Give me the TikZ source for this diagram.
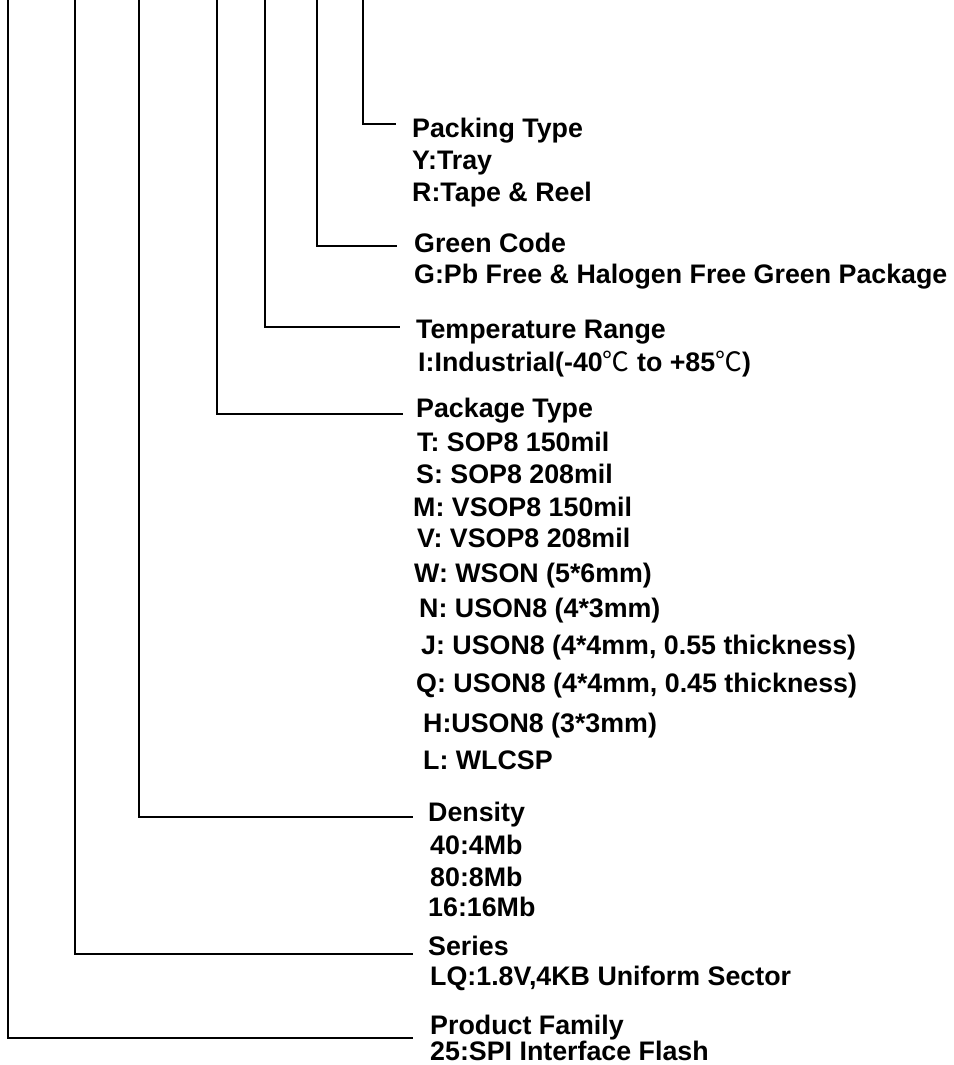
\documentclass[tikz,border=0pt]{standalone}
\usepackage{fontspec}
\setmainfont{Liberation Sans}
\newfontfamily\cjkdeg{Noto Sans CJK SC}
\newcommand{\degc}{{\cjkdeg\mdseries ℃}}
\begin{document}
\begin{tikzpicture}[x=1pt,y=-1pt,
  lbl/.style={anchor=base west,inner sep=0pt,font=\fontsize{26.8}{32}\selectfont\bfseries},
  branch/.style={line width=1.3pt,black}]
\useasboundingbox (0,0) rectangle (953,1065);
% tops of vertical lines
\coordinate (t1) at (8,0);
\coordinate (t2) at (75,0);
\coordinate (t3) at (139,0);
\coordinate (t4) at (217,0);
\coordinate (t5) at (265,0);
\coordinate (t6) at (317,0);
\coordinate (t7) at (363,0);
% ends of horizontal lines
\coordinate (e7) at (396,124);
\coordinate (e6) at (397,246);
\coordinate (e5) at (400,327);
\coordinate (e4) at (403,414);
\coordinate (e3) at (413,817);
\coordinate (e2) at (413,954);
\coordinate (e1) at (413,1038);
\draw[branch] (t7) |- (e7);
\draw[branch] (t6) |- (e6);
\draw[branch] (t5) |- (e5);
\draw[branch] (t4) |- (e4);
\draw[branch] (t3) |- (e3);
\draw[branch] (t2) |- (e2);
\draw[branch] (t1) |- (e1);
% labels
\node[lbl] (pk)  at (412,137.5) {Packing Type};
\node[lbl] (pk1) at (412,169.5) {Y:Tray};
\node[lbl] (pk2) at (412,201.5) {R:Tape \& Reel};
\node[lbl] (gc)  at (414,252.5) {Green Code};
\node[lbl] (gc1) at (414,283.5) {G:Pb Free \& Halogen Free Green Package};
\node[lbl] (tr)  at (416,338.5) {Temperature Range};
\node[lbl] (tr1) at (418,371.5) {I:Industrial(-40\degc{} to +85\degc)};
\node[lbl] (pt)  at (416,417.5) {Package Type};
\node[lbl] (ptT) at (417,451.5) {T: SOP8 150mil};
\node[lbl] (ptS) at (416,483.5) {S: SOP8 208mil};
\node[lbl] (ptM) at (413,516.5) {M: VSOP8 150mil};
\node[lbl] (ptV) at (417,547.5) {V: VSOP8 208mil};
\node[lbl] (ptW) at (414,582.5) {W: WSON (5*6mm)};
\node[lbl] (ptN) at (419,617.5) {N: USON8 (4*3mm)};
\node[lbl] (ptJ) at (421,654.5) {J: USON8 (4*4mm, 0.55 thickness)};
\node[lbl] (ptQ) at (416,692.5) {Q: USON8 (4*4mm, 0.45 thickness)};
\node[lbl] (ptH) at (423,732.5) {H:USON8 (3*3mm)};
\node[lbl] (ptL) at (423,769.5) {L: WLCSP};
\node[lbl] (dn)  at (428,821.5) {Density};
\node[lbl] (dn1) at (430,854.5) {40:4Mb};
\node[lbl] (dn2) at (430,886.5) {80:8Mb};
\node[lbl] (dn3) at (428,916.5) {16:16Mb};
\node[lbl] (sr)  at (428,955.5) {Series};
\node[lbl] (sr1) at (430,985.5) {LQ:1.8V,4KB Uniform Sector};
\node[lbl] (pf)  at (430,1034.5) {Product Family};
\node[lbl] (pf1) at (430,1060.5) {25:SPI Interface Flash};
\end{tikzpicture}
\end{document}
